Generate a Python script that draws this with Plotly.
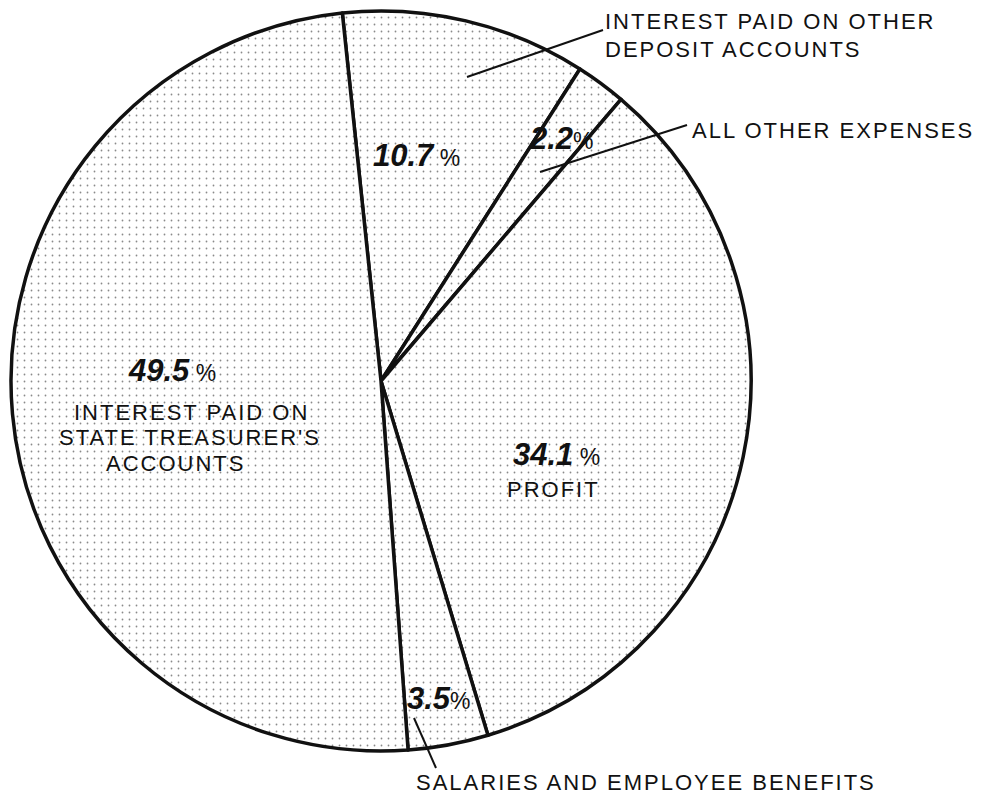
import plotly.graph_objects as go

# ---- data ----
categories = [
    "Interest paid on other deposit accounts",
    "All other expenses",
    "Profit",
    "Salaries and employee benefits",
    "Interest paid on State Treasurer's accounts",
]
values = [10.7, 2.2, 34.1, 3.5, 49.5]
pct_space = [True, False, True, False, True]

W, H = 984, 796
CX, CY, R = 381, 381, 370
FONT = "Liberation Sans, Arial, Helvetica, sans-serif"


def px(x):
    return x / W


def py(y):
    return 1 - y / H


fig = go.Figure(
    go.Pie(
        labels=categories,
        values=values,
        sort=False,
        direction="clockwise",
        rotation=-6,
        textinfo="none",
        hoverinfo="label+percent",
        showlegend=False,
        marker=dict(
            colors=["white"] * len(values),
            line=dict(color="#111111", width=3.5),
            pattern=dict(shape=".", fgcolor="#8a8a8a", bgcolor="white", size=7, solidity=0.05),
        ),
        domain=dict(x=[px(CX - R), px(CX + R)], y=[py(CY + R), py(CY - R)]),
    )
)


def pct_text(v, space):
    return (f"<b><i>{v}</i></b>"
            f"<span style=\"font-size:23px\">{' ' if space else ''}%</span>")


pct_pos = [(416, 155), (561, 138), (556, 455), (439, 698), (172, 371)]
annotations = []
for v, sp, (x, y) in zip(values, pct_space, pct_pos):
    annotations.append(dict(
        x=px(x), y=py(y), xref="paper", yref="paper", xanchor="center", yanchor="middle",
        text=pct_text(v, sp), showarrow=False,
        font=dict(family=FONT, size=31, color="#111111"),
    ))

SP = "<span style=\"letter-spacing:2px\">{}</span>"
captions = [
    ("PROFIT", 553, 490, "center"),
    ("INTEREST PAID ON", 191, 412, "center"),
    ("STATE TREASURER'S", 190, 437, "center"),
    ("ACCOUNTS", 175, 463, "center"),
    ("INTEREST PAID ON OTHER", 603, 22, "left"),
    ("DEPOSIT ACCOUNTS", 603, 50, "left"),
    ("ALL OTHER EXPENSES", 690, 130, "left"),
    ("SALARIES AND EMPLOYEE BENEFITS", 414, 782, "left"),
]
for t, x, y, anc in captions:
    annotations.append(dict(
        x=px(x), y=py(y), xref="paper", yref="paper", xanchor=anc, yanchor="middle",
        text=SP.format(t), showarrow=False,
        font=dict(family=FONT, size=22, color="#111111"),
    ))

pointers = [((467, 77), (603, 30)), ((540, 172), (687, 125)), ((414, 718), (436, 768))]
shapes = []
for (x0, y0), (x1, y1) in pointers:
    shapes.append(dict(type="line", xref="paper", yref="paper",
                       x0=px(x0), y0=py(y0), x1=px(x1), y1=py(y1),
                       line=dict(color="#111111", width=2)))

fig.update_layout(
    width=W, height=H,
    margin=dict(l=0, r=0, t=0, b=0),
    paper_bgcolor="white", plot_bgcolor="white",
    annotations=annotations, shapes=shapes,
)

# remove the default 8px body margin so the figure fills the window exactly
fig.write_html(
    "out.html",
    config={"displayModeBar": False},
    post_script="document.body.style.margin='0';document.body.style.overflow='hidden';",
)
